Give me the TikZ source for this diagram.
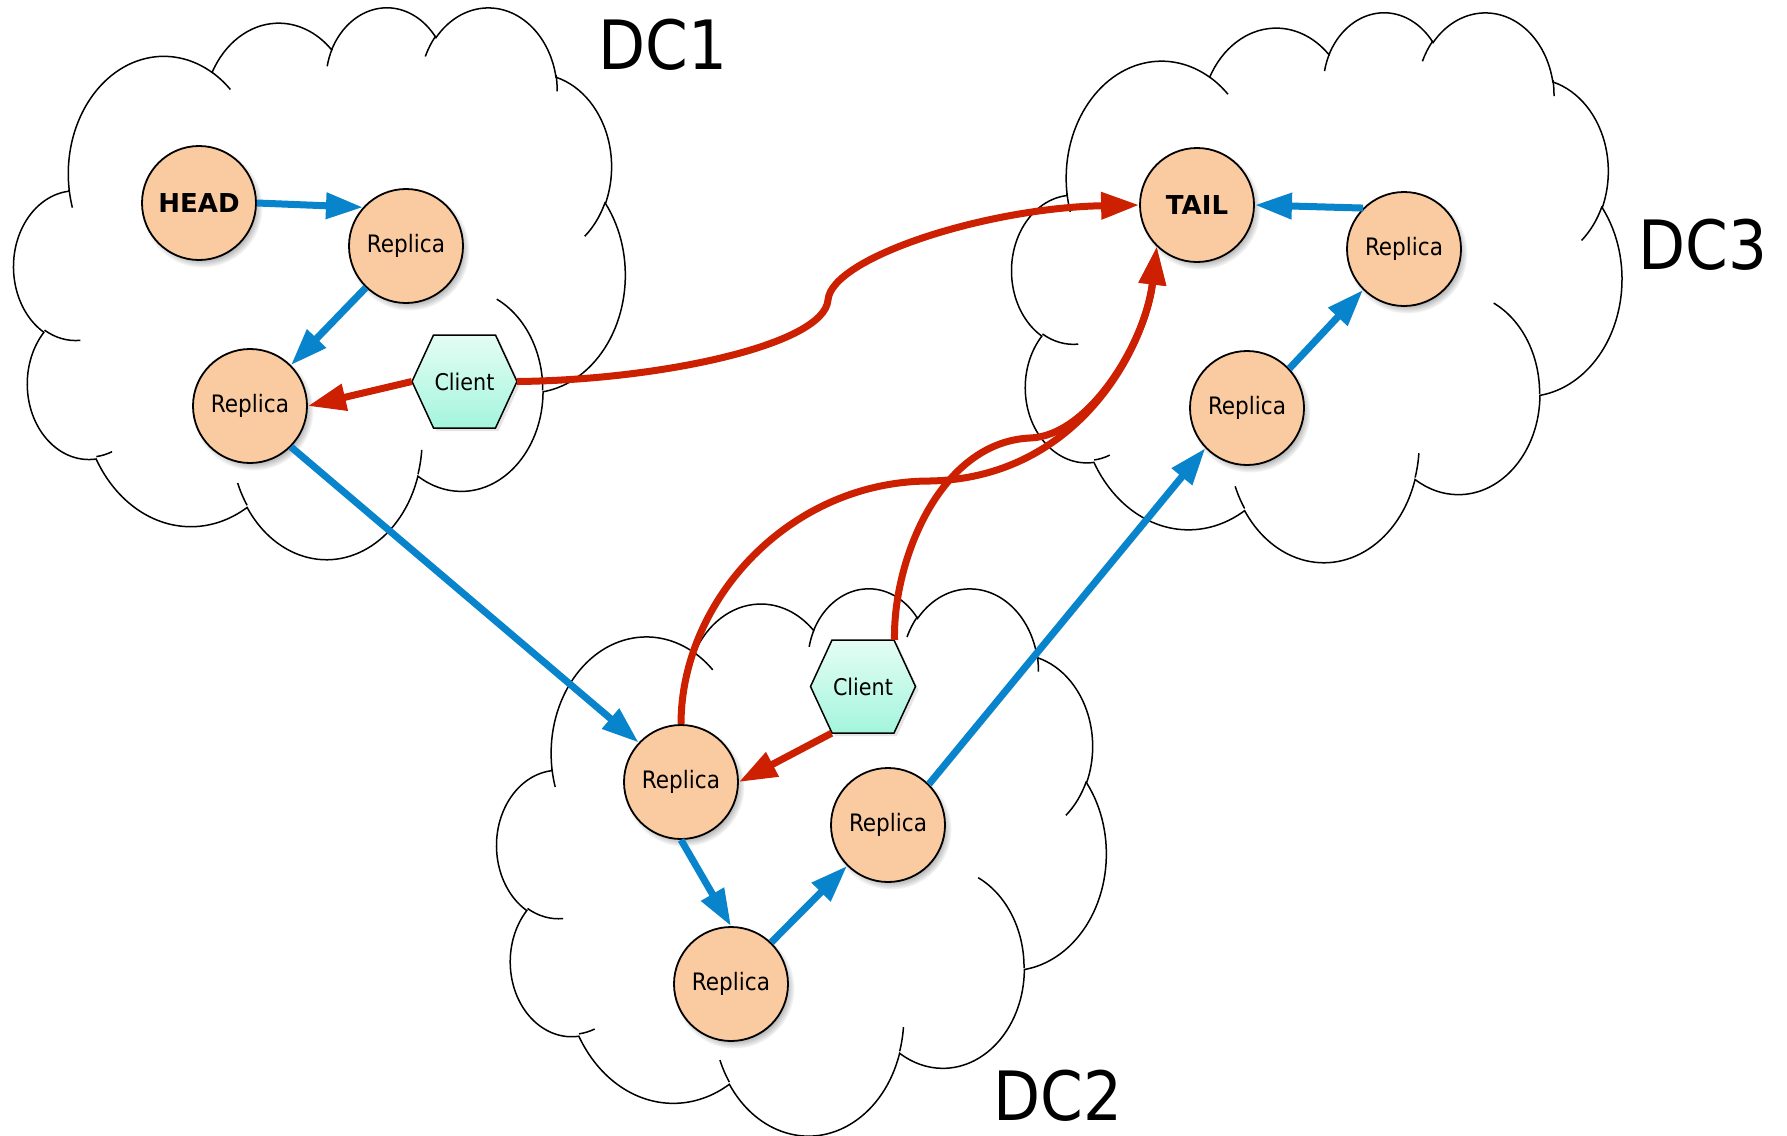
\documentclass[tikz,border=0pt]{standalone}
\usepackage{fontspec}
\setmainfont{DejaVu Sans Condensed}
\newfontfamily\widefont{DejaVu Sans}
\usetikzlibrary{arrows.meta,shadows}

\definecolor{peach}{RGB}{250,203,160}
\definecolor{mintT}{RGB}{228,253,244}
\definecolor{mintB}{RGB}{164,245,220}
\definecolor{bluec}{RGB}{8,132,204}
\definecolor{redc}{RGB}{204,32,0}

\newcommand\cldarc[4]{arc[start angle={atan2((#1)*sin(#3),(#2)*cos(#3))}, delta angle={mod(atan2((#1)*sin((#3)+(#4)),(#2)*cos((#3)+(#4)))-atan2((#1)*sin(#3),(#2)*cos(#3))+720,360)}, x radius=#1, y radius=#2]}

\newcommand\cloudshape{%
  \draw[cloudline] (3900,14370)
    \cldarc{6753}{9190}{-190.4875}{123.7805}
    \cldarc{5333}{7267}{-144.1024}{89.9452}
    \cldarc{4365}{5945}{-145.8079}{99.7230}
    \cldarc{4857}{6595}{-130.9861}{117.2417}
    \cldarc{5333}{7273}{-78.7089}{109.0269}
    \cldarc{6775}{9220}{-46.2673}{130.2690}
    \cldarc{5785}{7867}{0.6250}{114.0333}
    \cldarc{6752}{9215}{22.4516}{115.1726}
    \cldarc{7720}{10543}{66.2426}{75.7110}
    \cldarc{4360}{5918}{-274.9421}{146.7356}
    \cldarc{4345}{5945}{-246.8285}{152.5189} -- cycle;
  \draw[cloudline]
    (4693,26177) \cldarc{4345}{5945}{86.742}{26.4295}
    (6928,34899) \cldarc{4360}{5918}{73.6105}{11.4475}
    (16478,39090) \cldarc{6752}{9215}{137.6242}{14.0811}
    (28827,34751) \cldarc{6752}{9215}{6.4533}{15.9984}
    (34129,22954) \cldarc{5785}{7867}{-70.2924}{70.9174}
    (41798,15354) \cldarc{5333}{7273}{30.318}{27.7515}
    (38324,5426) \cldarc{4857}{6595}{-13.7443}{14.8589}
    (29078,3952) \cldarc{4857}{6595}{-149.1815}{18.1954}
    (22141,4720) \cldarc{4365}{5945}{-163.4943}{17.6864}
    (14000,5192) \cldarc{6753}{9190}{-66.707}{12.3194}
    (4127,15789) \cldarc{6753}{9190}{157.6544}{11.8582};
}

% client hexagon: name, x, y
\newcommand\clienthex[3]{%
  \filldraw[hexshape] ({#2-52.5},#3) -- ++(21.5,-46.5) -- ++(62,0) -- ++(21.5,46.5)
     -- ++(-21.5,46.5) -- ++(-62,0) -- cycle;
  \node[clientbox] (#1) at (#2,#3) {Client};
}

\tikzset{
  cloudline/.style={line width=1.5pt, draw=black},
  rep/.style={circle, draw=black, line width=1.8pt, fill=peach, minimum size=114pt, inner sep=0pt,
    font=\fontsize{24}{28}\selectfont,
    circular drop shadow={shadow xshift=3pt, shadow yshift=-4pt, shadow scale=1.06, opacity=0.6}},
  endrep/.style={rep, font=\widefont\bfseries\fontsize{26}{30}\selectfont},
  hexshape/.style={draw=black, line width=1.5pt, line join=miter, top color=mintT, bottom color=mintB,
    drop shadow={shadow xshift=3pt, shadow yshift=-3pt, opacity=0.2}},
  clientbox/.style={rectangle, minimum width=105pt, minimum height=93pt, inner sep=0pt,
    font=\fontsize{23}{27}\selectfont},
  dclabel/.style={font=\fontsize{68}{80}\selectfont, inner sep=0pt},
  lineshadow/.style={preaction={draw=black, opacity=0.15, transform canvas={xshift=2.5pt, yshift=-2.5pt}}},
  blueedge/.style={lineshadow, draw=bluec, line width=7pt, -{Triangle[length=37pt,width=25pt]}},
  rededge/.style={lineshadow, draw=redc, line width=7pt, -{Triangle[length=38pt,width=26pt]}},
}

\begin{document}
\begin{tikzpicture}[x=1pt, y=-1pt]
\fill[white] (0,0) rectangle (1787,1135);
\useasboundingbox (0,0) rectangle (1787,1135);

% clouds
\begin{scope}[shift={(14,6)}, x=0.014144pt, y=-0.012778pt] \cloudshape \end{scope}
\begin{scope}[shift={(1012,11)}, x=0.014120pt, y=-0.012731pt] \cloudshape \end{scope}
\begin{scope}[shift={(497,587)}, x=0.014097pt, y=-0.012662pt] \cloudshape \end{scope}

% labels
\node[dclabel] (dc1) at (663,44.5) {DC1};
\node[dclabel] (dc3) at (1703,245) {DC3};
\node[dclabel] (dc2) at (1058,1096) {DC2};

% DC1
\node[endrep] (HEAD) at (199,203) {HEAD};
\node[rep] (R1) at (406,246) {Replica};
\node[rep] (R2) at (250,406) {Replica};
\clienthex{C1}{464.5}{381.5}

% DC3
\node[endrep] (TAIL) at (1197,205) {TAIL};
\node[rep] (F) at (1404,249) {Replica};
\node[rep] (E) at (1247,408) {Replica};

% DC2
\node[rep] (A) at (681,782) {Replica};
\node[rep] (B) at (888,825) {Replica};
\node[rep] (C) at (731,984) {Replica};
\clienthex{C2}{863}{686.5}

% chain (blue)
\draw[blueedge] (HEAD.east) -- (R1.138);
\draw[blueedge] (R1.226) -- (R2.45);
\draw[blueedge] (R2.315) -- (A.137);
\draw[blueedge] (A.south) -- (C.north);
\draw[blueedge] (C.46) -- (B.225);
\draw[blueedge] (B.45) -- (E.224);
\draw[blueedge] (E.43) -- (F.225);
\draw[blueedge] (F.135) -- (TAIL.east);

% client requests (red)
\draw[rededge] (C1.west) -- (R2.east);
\draw[rededge] (C1.east) .. controls (660,380) and (824,345) .. (828,300)
  .. controls (831,258) and (985,208) .. (TAIL.west);
\draw[rededge] (C2.236.7) -- (A.east);
\draw[rededge] (C2.56.7) .. controls (893,560) and (940,442) .. (1030,438)
  .. controls (1090,436) and (1146,340) .. (TAIL.226);
\draw[rededge] (A.north) .. controls (681,600) and (790,481) .. (930,481)
  .. controls (1080,478) and (1145,345) .. (TAIL.226);
\end{tikzpicture}
\end{document}
